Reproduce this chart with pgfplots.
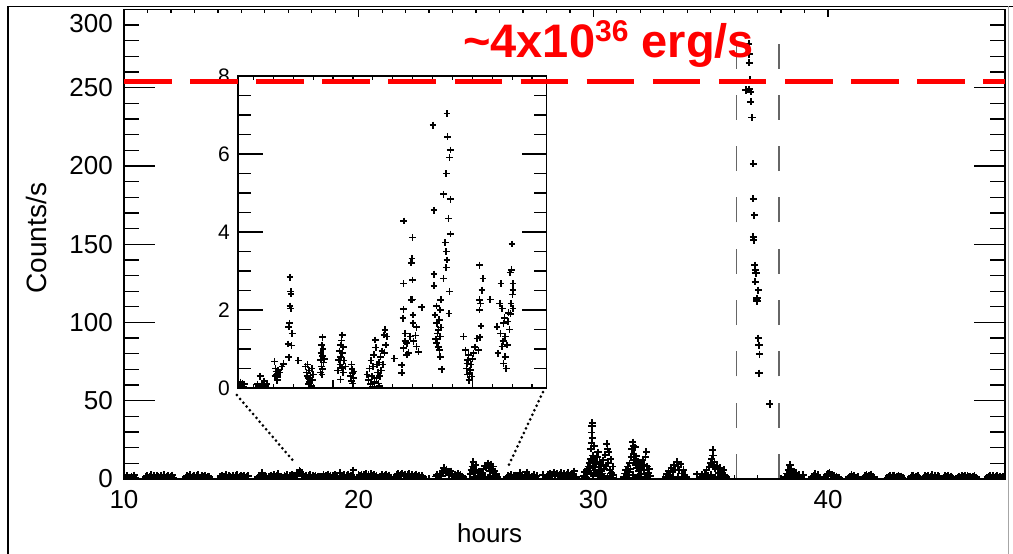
\documentclass[border=0pt]{standalone}
\usepackage{fontspec}
\setmainfont{Liberation Sans}
\usepackage{pgfplots}
\pgfplotsset{compat=1.18}
\pgfplotsset{
  pt/.style={only marks, mark=+, mark size=3.6pt, black, line width=1.9pt, mark options={line width=1.9pt}},
  mainframe/.style={at={(124pt,75pt)}, anchor=south west, scale only axis,
    width=881pt, height=469.5pt, xmin=10, xmax=47.54, ymin=0, ymax=300,
    axis line style={line width=1.3pt}, tick align=inside,
    every tick/.style={black, line width=1.3pt},
    /pgf/number format/assume math mode=true,
    ticklabel style={font=\fontsize{26}{28}\selectfont}},
  insetframe/.style={at={(238pt,166pt)}, anchor=south west, scale only axis,
    width=308.7pt, height=312pt, xmin=17.29, xmax=26.36, ymin=0, ymax=8,
    axis line style={line width=1.2pt}, tick align=inside,
    every tick/.style={black, line width=1.2pt},
    /pgf/number format/assume math mode=true,
    ticklabel style={font=\fontsize{21}{23}\selectfont}},
}
\begin{document}
\begin{tikzpicture}
\useasboundingbox (0,0) rectangle (1013pt,554pt);
% outer frame
\draw[line width=1.8pt] (8pt,0) -- (8pt,547.5pt) -- (1013pt,547.5pt);
\draw[black!35, line width=1pt] (1008.5pt,0) -- (1008.5pt,547.5pt);
% ---------------- main axis (x ticks, data)
\begin{axis}[mainframe,
  xtick={10,20,30,40}, minor x tick num=9, ytick=\empty,
  major tick length=8pt, minor tick length=4pt,
  xticklabel style={inner sep=0pt, anchor=north, yshift=-11pt},
  xlabel={hours},
  xlabel style={at={(axis description cs:0.415,0)}, anchor=center, yshift=-54pt, font=\fontsize{26}{28}\selectfont},
  ylabel={Counts/s},
  ylabel style={at={(axis description cs:0,0.513)}, anchor=center, yshift=88pt, font=\fontsize{28}{30}\selectfont},
  clip marker paths=true,
]
\addplot[sharp plot, no marks, black!60, line width=1.3pt, dash pattern=on 25pt off 26.3pt] coordinates {(36.105,0) (36.105,279)};
\addplot[sharp plot, no marks, black!60, line width=1.3pt, dash pattern=on 25pt off 26.3pt] coordinates {(37.907,0) (37.907,279)};
\addplot[pt] coordinates {
(10.02,1.5)(10.08,0.8)(10.14,2.1)(10.2,1.2)(10.26,0.6)(10.32,1.8)(10.38,1.1)(10.44,2.4)(10.5,0.9)
(10.92,1.3)(10.98,2.2)(11.04,0.7)(11.1,1.6)(11.16,2.6)(11.22,1.0)(11.28,1.9)(11.34,0.5)(11.4,2.3)(11.46,1.4)(11.52,0.9)(11.58,2.0)(11.64,1.2)(11.7,2.7)(11.76,0.8)(11.82,1.7)(11.88,2.2)(11.94,1.0)(12.0,1.5)(12.06,2.4)(12.12,0.7)
(12.62,1.1)(12.68,2.0)(12.74,1.4)(12.8,2.5)(12.86,0.8)(12.92,1.7)(12.98,2.2)(13.04,1.0)(13.1,1.9)(13.16,2.6)(13.22,1.2)(13.28,0.7)(13.34,2.1)(13.4,1.5)(13.46,2.3)(13.52,0.9)(13.58,1.8)(13.64,1.3)
(14.1,1.4)(14.16,2.2)(14.22,0.9)(14.28,1.8)(14.34,2.5)(14.4,1.1)(14.46,2.0)(14.52,1.5)(14.58,0.8)(14.64,2.3)(14.7,1.2)(14.76,1.9)(14.82,2.6)(14.88,1.0)(14.94,1.7)(15.0,2.2)(15.06,1.3)(15.12,2.0)(15.18,0.9)(15.24,1.6)(15.3,2.1)
(15.7,1.2)(15.76,2.0)(15.82,1.5)(15.88,3.8)(15.94,1.0)(16.0,2.2)(16.06,1.4)
(16.16,1.8)(16.22,1.0)(16.28,2.4)(16.34,1.5)(16.4,2.8)(16.46,1.2)(16.52,2.1)(16.58,3.2)(16.64,1.4)
(16.78,1.1)(16.84,2.0)(16.9,1.4)(16.96,2.5)(17.02,1.0)(17.08,1.9)(17.14,2.7)(17.2,1.3)(17.26,2.2)(17.32,1.6)(17.38,2.8)(17.44,4.0)(17.48,5.5)(17.52,4.8)(17.56,3.5)(17.62,2.2)(17.68,1.5)(17.74,2.4)(17.8,1.0)(17.86,1.9)(17.92,2.6)(17.98,1.2)(18.04,2.0)(18.1,1.4)(18.16,2.3)(18.22,1.0)(18.28,1.8)(18.34,1.3)
(18.44,1.5)(18.5,2.6)(18.56,1.2)(18.62,2.1)(18.68,3.0)(18.74,1.4)(18.8,2.4)(18.86,1.0)(18.92,2.0)(18.98,2.8)(19.04,1.5)
(19.2,3.8)(19.26,2.2)(19.32,1.4)(19.38,2.5)(19.44,1.0)(19.5,2.0)(19.56,2.8)(19.62,1.5)(19.68,2.3)(19.74,1.2)(19.77,5.6)
(20.0,1.2)(20.06,2.3)(20.12,3.0)(20.18,1.5)(20.24,2.5)(20.3,3.4)(20.36,1.8)(20.42,2.8)(20.48,1.3)(20.54,3.2)(20.6,2.0)(20.66,2.7)(20.72,1.4)(20.76,2.2)
(20.92,1.5)(20.98,2.6)(21.04,1.2)(21.1,2.2)(21.16,3.0)(21.22,1.6)(21.28,2.4)(21.33,1.0)
(21.56,1.4)(21.62,2.5)(21.68,3.2)(21.74,1.8)(21.8,2.8)(21.86,3.6)(21.92,2.0)(21.98,3.0)(22.04,1.5)(22.1,2.6)(22.16,3.4)(22.22,1.8)(22.28,2.8)(22.34,1.3)(22.4,2.4)(22.46,3.1)(22.52,1.6)(22.58,2.2)(22.64,1.2)(22.7,2.0)(22.76,1.0)
(23.28,1.6)(23.34,2.8)(23.4,1.2)(23.46,3.5)(23.52,2.2)(23.58,4.5)(23.62,7.0)(23.66,5.5)(23.7,3.8)(23.74,6.2)(23.8,4.0)(23.86,2.5)(23.92,5.0)(23.98,3.2)(24.04,1.8)(24.1,3.0)(24.16,2.2)(24.22,3.6)(24.28,1.5)(24.34,2.6)(24.4,1.8)(24.46,1.0)
(24.76,3.0)(24.8,5.5)(24.84,8.0)(24.88,11.0)(24.9,7.0)(24.94,4.5)(24.98,9.0)(25.02,6.0)(25.08,3.5)(25.14,5.0)(25.2,2.5)(25.26,4.0)(25.32,6.5)(25.38,8.5)(25.44,7.5)(25.5,10.0)(25.54,7.0)(25.58,5.0)(25.62,9.5)(25.66,6.0)(25.7,4.0)(25.74,8.0)(25.8,5.0)(25.86,3.0)(25.92,1.5)(24.9,1.0)(25.2,0.8)(25.5,1.2)(25.8,0.8)(25.1,2.0)(25.4,1.5)(25.7,2.0)
(26.32,1.2)(26.38,2.0)(26.44,1.5)(26.5,2.6)(26.56,1.0)(26.62,1.9)(26.68,2.4)(26.74,1.3)(26.8,2.2)(26.86,4.0)(26.92,1.6)(26.98,2.5)(27.04,1.1)(27.1,2.0)(27.16,4.2)(27.22,1.4)(27.28,2.3)(27.34,1.0)(27.4,1.8)(27.46,2.6)(27.52,1.2)(27.58,2.0)(27.84,2.5)
(28.02,1.5)(28.08,2.5)(28.14,3.5)(28.2,1.8)(28.26,3.0)(28.32,4.2)(28.38,2.2)(28.44,3.4)(28.5,1.6)(28.56,2.8)(28.62,4.0)(28.68,2.0)(28.74,3.2)(28.8,1.4)(28.86,2.6)(28.92,3.8)(28.98,1.8)(29.04,3.0)(29.1,2.0)(29.19,5.0)(29.26,1.5)
};
\addplot[pt] coordinates {
(29.6,2.0)(29.64,4.5)(29.68,1.2)(29.72,6.0)(29.75,3.0)(29.78,8.0)(29.8,5.0)(29.83,10.5)(29.86,7.0)(29.88,13.0)(29.9,19.3)(29.92,23.0)(29.93,29.7)(29.94,34.0)(29.95,36.0)(29.96,26.0)(29.98,15.0)(30.0,11.0)(30.02,8.5)(30.04,21.0)(30.06,12.5)(30.08,6.0)(30.1,9.5)(30.13,4.0)(30.16,14.0)(30.2,17.0)(30.23,7.5)(30.26,11.0)(30.3,5.0)(30.34,9.0)(30.38,3.5)(30.42,12.0)(30.46,6.5)(30.5,15.5)(30.54,8.0)(30.57,22.6)(30.6,19.0)(30.63,10.0)(30.66,17.0)(30.7,6.0)(30.74,12.5)(30.78,4.0)(30.82,8.0)(30.85,2.5)(29.62,0.8)(29.7,0.5)(30.0,2.0)(30.3,1.0)(30.6,1.5)(30.8,0.5)(29.9,3.5)(30.2,2.5)(30.45,1.8)(30.7,2.2)
(31.3,1.5)(31.34,3.5)(31.38,6.0)(31.42,2.0)(31.46,8.0)(31.5,4.5)(31.54,10.0)(31.58,6.5)(31.62,14.0)(31.65,19.0)(31.68,23.5)(31.7,21.0)(31.72,16.0)(31.75,12.0)(31.78,20.2)(31.8,9.0)(31.83,14.5)(31.86,7.0)(31.9,11.0)(31.94,5.0)(31.98,9.5)(32.02,3.0)(32.06,7.5)(32.1,12.0)(32.14,5.5)(32.18,9.0)(32.22,14.0)(32.26,17.5)(32.3,8.0)(32.34,4.0)(32.38,6.5)(32.42,2.0)(31.5,0.8)(31.9,1.2)(32.2,0.7)(31.7,2.5)(32.0,1.0)(32.3,2.0)
(33.08,1.5)(33.14,3.0)(33.2,5.0)(33.26,2.5)(33.32,7.0)(33.38,4.5)(33.44,9.0)(33.5,6.0)(33.55,11.0)(33.6,8.0)(33.66,5.5)(33.72,9.5)(33.78,3.5)(33.84,6.0)(33.9,2.5)(33.96,1.2)(33.3,1.0)(33.6,1.5)(33.8,0.8)
(34.41,3.0)
(34.58,1.5)(34.64,2.5)(34.7,1.2)(34.76,3.0)(34.82,5.5)(34.88,2.0)(34.94,7.5)(35.0,10.0)(35.04,12.5)(35.08,18.5)(35.1,15.0)(35.12,9.0)(35.16,11.0)(35.2,6.5)(35.26,8.5)(35.32,4.0)(35.38,7.0)(35.44,5.0)(35.5,3.0)(35.56,6.0)(35.62,2.0)(35.68,1.0)(34.9,0.6)(35.2,1.0)(35.4,0.5)(35.0,2.5)
(36.5,248.5)(36.64,249)(36.7,247.5)(36.62,278)(36.63,271.5)(36.64,266)(36.66,255)(36.7,241)(36.76,231)(36.82,201.5)(36.82,179)(36.86,168.5)(36.82,154.6)(36.83,152.5)(36.88,136.6)(36.9,133.4)(36.93,131.5)(36.9,126)(37.03,120.6)(36.97,115.5)(36.97,113.8)(36.95,114.5)(37.03,90)(37.06,85.5)(37.08,79.8)(37.06,67.6)(37.52,47.9)
(38.18,1.5)(38.24,3.5)(38.3,6.0)(38.35,4.5)(38.38,9.0)(38.42,6.5)(38.46,3.0)(38.52,5.0)(38.58,2.5)(38.64,4.0)(38.7,1.5)(38.76,2.5)(38.8,1.0)(38.94,2.5)(38.4,1.2)
(39.32,1.0)(39.38,2.0)(39.44,3.5)(39.5,1.5)(39.56,2.5)(39.62,1.0)
(39.88,1.2)(39.94,2.4)(40.0,3.5)(40.06,4.2)(40.12,2.8)(40.18,1.6)(40.24,2.2)(40.3,1.0)(40.36,1.8)(40.42,1.2)(40.48,0.8)
(40.88,1.0)(40.94,1.8)(41.0,2.6)(41.06,1.5)(41.12,2.2)(41.18,1.0)(41.26,1.4)
(41.52,1.2)(41.58,2.0)(41.64,2.8)(41.7,1.6)(41.76,2.4)(41.82,3.0)(41.88,1.5)(41.96,1.0)
(42.52,0.9)(42.58,1.8)(42.64,2.2)(42.7,1.2)(42.76,1.9)(42.82,2.4)(42.88,1.0)(42.94,1.7)(43.0,2.3)(43.06,1.3)(43.12,1.8)(43.18,0.8)
(43.52,1.0)(43.58,1.9)(43.64,2.2)(43.7,1.2)(43.76,1.6)(43.82,2.0)(43.88,0.9)
(44.08,1.1)(44.14,2.0)(44.2,1.4)(44.26,2.3)(44.32,1.0)(44.38,1.8)(44.44,2.5)(44.5,1.2)(44.56,1.9)(44.62,1.0)(44.68,2.1)(44.74,1.3)
(44.92,1.0)(44.98,1.9)(45.04,1.3)(45.1,2.2)(45.16,1.1)(45.22,1.7)(45.28,0.9)
(45.52,1.2)(45.58,1.8)(45.64,1.0)(45.7,2.1)(45.76,1.4)(45.82,1.9)(45.88,1.1)(45.94,2.0)(46.0,1.3)(46.06,1.8)(46.12,1.0)(46.18,1.6)(46.24,2.0)(46.3,1.1)
(46.78,1.0)(46.84,1.7)(46.9,2.2)(46.96,1.2)(47.02,1.9)(47.08,1.0)(47.14,1.6)(47.2,2.1)(47.26,1.2)(47.32,1.8)(47.38,1.0)(47.44,1.5)
};
\end{axis}
% ---------------- main axis y ticks (longer ticks)
\begin{axis}[mainframe,
  xtick=\empty,
  ytick={0,50,...,300}, yticklabels={0,50,100,150,200,250,},
  minor y tick num=4,
  major tick length=31pt, minor tick length=15pt,
  extra y ticks={300}, extra y tick labels={300},
  extra y tick style={yticklabel style={yshift=-14pt}},
  yticklabel style={inner sep=0pt, anchor=east, xshift=-11pt},
]
\addplot[draw=none, no marks] coordinates {(10,0)};
\end{axis}
% ---------------- inset axis (x ticks, data)
\begin{axis}[insetframe,
  axis background/.style={fill=white},
  xtick={20.08,24.18}, xticklabels={},
  minor xtick={17.74,18.33,18.91,19.5,20.67,21.25,21.84,22.42,23.01,23.59,24.76,25.35,25.93},
  ytick=\empty,
  major tick length=8pt, minor tick length=4pt,
  clip marker paths=true,
]
\addplot[pt, mark size=3.4pt, line width=1.6pt, mark options={line width=1.6pt}] coordinates {
(17.3,0.1)(17.33,0.05)(17.36,0.15)(17.39,0.08)(17.42,0.12)(17.45,0.03)(17.48,0.1)
(17.86,0.1)(17.9,0.05)(17.94,0.3)(17.98,0.12)(18.02,0.08)(18.06,0.18)(18.1,0.05)(18.14,0.1)
(18.36,0.68)(18.39,0.5)(18.41,0.42)(18.43,0.35)(18.45,0.28)(18.38,0.3)(18.47,0.45)(18.52,0.4)(18.58,0.55)(18.63,0.62)(18.44,0.2)
(18.82,2.84)(18.84,2.47)(18.85,2.41)(18.82,2.1)(18.84,2.04)(18.8,1.66)(18.78,1.57)(18.88,1.4)(18.76,1.13)(18.86,1.09)(18.78,0.79)(19.06,0.7)
(19.27,0.55)(19.3,0.4)(19.33,0.6)(19.35,0.25)(19.38,0.45)(19.4,0.15)(19.42,0.32)(19.44,0.05)(19.46,0.5)(19.48,0.2)(19.36,0.1)(19.5,0.35)(19.32,0.3)
(19.77,1.3)(19.75,1.1)(19.79,1.0)(19.73,0.9)(19.78,0.82)(19.72,0.72)(19.8,0.65)(19.74,0.55)(19.77,0.48)(19.71,0.4)(19.83,0.75)(19.76,0.35)
(20.35,1.36)(20.33,1.22)(20.3,1.1)(20.38,1.05)(20.27,0.95)(20.36,0.9)(20.31,0.8)(20.25,0.72)(20.4,0.7)(20.29,0.6)(20.34,0.52)(20.22,0.45)(20.38,0.4)(20.3,0.22)(20.45,0.55)
(20.62,0.6)(20.64,0.48)(20.66,0.38)(20.6,0.3)(20.68,0.25)(20.63,0.18)(20.7,0.42)(20.66,0.12)
(21.08,0.35)(21.12,0.2)(21.15,0.5)(21.18,0.1)(21.2,0.7)(21.22,0.3)(21.25,0.55)(21.28,0.85)(21.3,0.15)(21.32,1.23)(21.34,1.04)(21.36,0.25)(21.38,0.6)(21.4,0.4)(21.42,0.12)(21.44,0.65)(21.46,0.3)(21.48,0.8)(21.5,0.45)(21.52,0.95)(21.55,0.6)(21.58,1.36)(21.61,1.49)(21.63,1.1)(21.66,1.32)(21.6,0.9)(21.45,0.05)(21.24,0.02)
(21.88,0.76)
(22.16,4.28)(22.42,3.86)(22.4,3.32)(22.38,3.21)(22.15,2.68)(22.42,2.77)(22.42,2.27)(22.38,2.26)(22.69,2.07)(22.15,2.02)(22.14,1.79)(22.43,1.87)(22.43,1.66)(22.53,1.56)(22.2,1.4)(22.35,1.32)(22.25,1.15)(22.15,1.02)(22.25,0.85)(22.54,1.06)(22.59,0.93)(22.1,0.59)(22.1,0.39)(22.3,0.9)(22.45,1.2)(22.5,1.35)(22.2,1.2)
(23.02,6.74)(23.43,7.04)(23.45,6.44)(23.53,6.1)(23.51,5.91)(23.41,5.5)(23.05,4.56)(23.33,4.97)(23.53,4.84)(23.48,4.35)(23.53,3.95)(23.38,3.73)(23.41,3.5)(23.43,3.28)(23.41,3.09)(23.05,2.92)(23.05,2.62)(23.33,2.81)(23.25,2.26)(23.5,2.47)(23.23,2.0)(23.49,1.91)(23.08,1.87)(23.13,1.66)(23.18,1.49)(23.23,1.32)(23.13,1.15)(23.21,0.97)(23.23,0.8)(23.28,0.48)(23.15,1.4)(23.2,1.75)(23.1,1.25)(23.17,1.05)(23.25,1.55)(23.12,2.1)
(23.92,1.32)(24.31,1.27)(24.36,0.97)(23.97,0.97)(24.04,0.72)(24.11,0.46)(24.02,0.63)(24.16,0.29)(24.09,0.38)(24.21,0.89)(24.0,0.5)(24.06,0.85)(24.13,0.6)(24.18,0.75)(24.08,0.2)(24.25,1.05)(24.03,0.35)
(24.39,3.15)(24.49,2.81)(24.46,2.51)(24.39,2.26)(24.41,2.17)(24.39,2.0)(24.43,1.59)(24.7,2.27)(24.4,1.3)
(25.34,3.69)(25.32,3.03)(25.29,2.96)(25.37,2.68)(25.02,2.68)(25.37,2.51)(25.31,2.17)(25.37,2.04)(24.98,2.17)(25.05,2.04)(25.24,1.93)(24.9,1.57)(25.09,1.66)(25.0,1.4)(25.14,1.32)(25.05,1.06)(25.14,0.8)(24.93,0.89)(25.17,0.5)(25.09,0.63)(25.2,1.1)(25.27,1.5)(25.12,1.8)(25.3,1.9)(25.35,2.4)(25.22,1.7)(25.08,1.2)
};
\end{axis}
% ---------------- inset y ticks (longer ticks)
\begin{axis}[insetframe,
  xtick=\empty,
  ytick={0,2,4,6,8}, minor y tick num=3,
  major tick length=25pt, minor tick length=13pt,
  yticklabel style={inner sep=0pt, anchor=east, xshift=-8pt},
]
\addplot[draw=none, no marks] coordinates {(18,0)};
\end{axis}
% ---------------- overlay: connectors and reference level
\begin{axis}[
  at={(124pt,75pt)}, anchor=south west, scale only axis,
  width=881pt, height=469.5pt,
  xmin=10, xmax=47.54, ymin=0, ymax=300,
  hide axis, clip=false,
]
\addplot[black, no marks, line width=3pt, line cap=round, dash pattern=on 0pt off 5pt] coordinates {(14.81,53.6) (17.29,10.2)};
\addplot[black, no marks, line width=3pt, line cap=round, dash pattern=on 0pt off 5pt] coordinates {(27.85,55.5) (26.36,7.7)};
\addplot[red, no marks, line width=5.3pt, dash pattern=on 47.5pt off 18.6pt] coordinates {(10,254) (47.54,254)};
\end{axis}
\node[anchor=base west, text=red, inner sep=0pt, font=\fontsize{47}{50}\selectfont\bfseries] at (463pt,496pt)
  {\textasciitilde 4x10\raisebox{16pt}{\fontsize{30}{32}\selectfont 36} erg/s};
\end{tikzpicture}
\end{document}
